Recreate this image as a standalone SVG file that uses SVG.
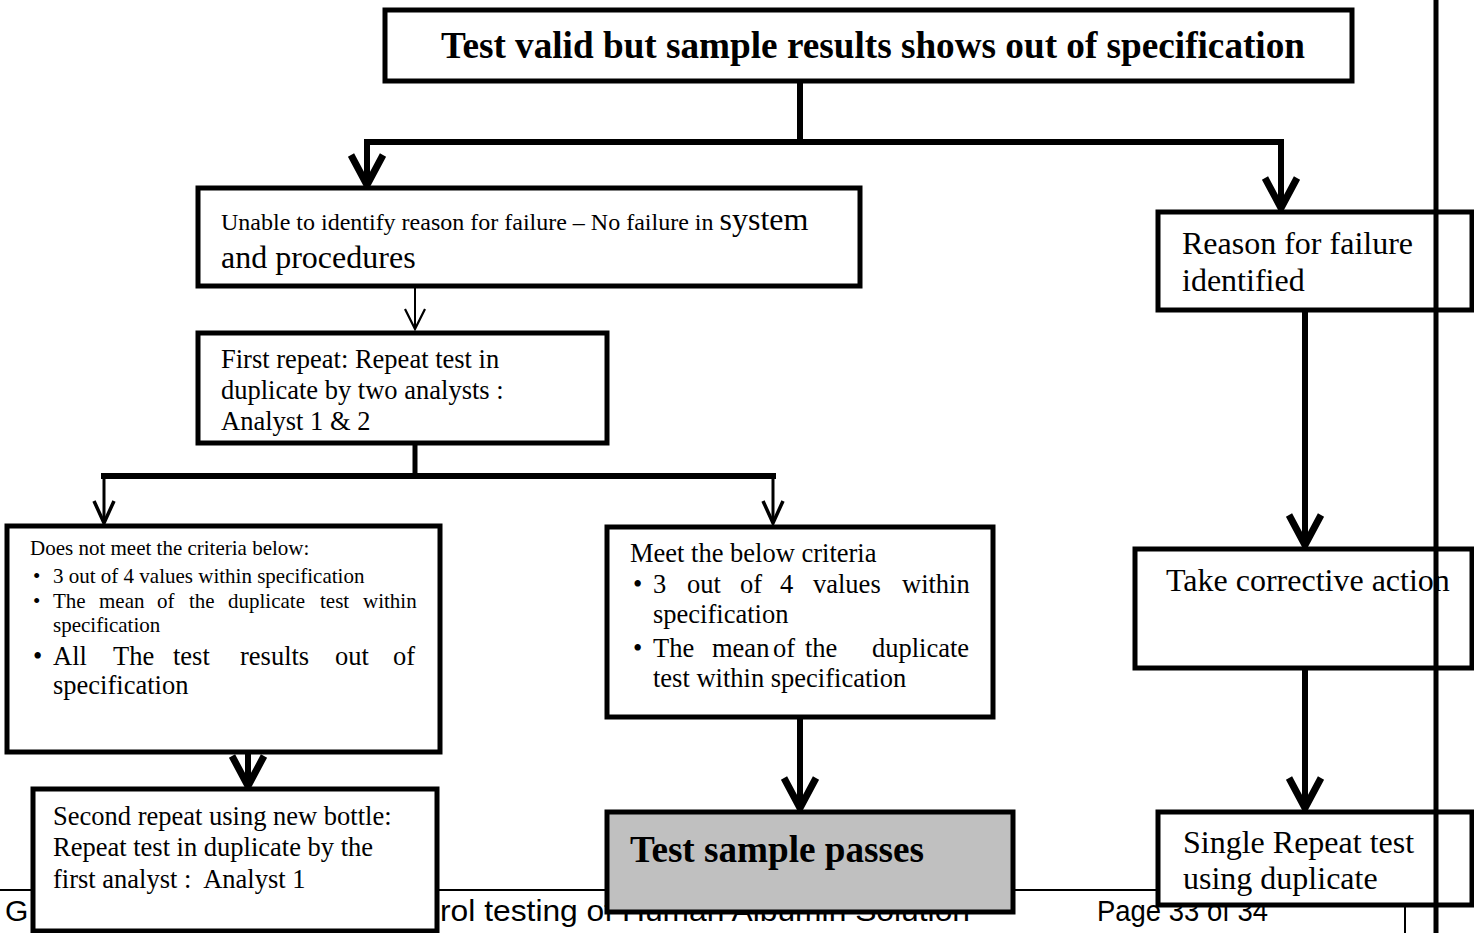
<svg xmlns="http://www.w3.org/2000/svg" width="1474" height="933" viewBox="0 0 1474 933">
<style>
.box{fill:#fff;stroke:#000;stroke-width:5}
.grey{fill:#c0c0c0;stroke:#000;stroke-width:5}
.t{font-family:"Liberation Serif","Times New Roman",serif;fill:#000}
.b{font-weight:bold}
.foot{font-family:"Liberation Sans",Arial,sans-serif;font-size:30px;fill:#000}
.thk{fill:none;stroke:#000;stroke-width:6}
.med{fill:none;stroke:#000;stroke-width:3}
.thin{fill:none;stroke:#000;stroke-width:2}
.rule{fill:none;stroke:#000;stroke-width:2}
.rule5{fill:none;stroke:#000;stroke-width:5}
</style>
<defs>
<marker id="ahT" viewBox="-40 -24 48 48" refX="0" refY="0" markerWidth="48" markerHeight="48" markerUnits="userSpaceOnUse" orient="auto">
<path d="M-30,-16 L0,0 L-30,16" fill="none" stroke="#000" stroke-width="7" stroke-linejoin="miter"/>
</marker>
<marker id="ahM" viewBox="-30 -16 36 32" refX="0" refY="0" markerWidth="36" markerHeight="32" markerUnits="userSpaceOnUse" orient="auto">
<path d="M-22,-10 L0,0 L-22,10" fill="none" stroke="#000" stroke-width="3.5"/>
</marker>
<marker id="ahS" viewBox="-30 -16 36 32" refX="0" refY="0" markerWidth="36" markerHeight="32" markerUnits="userSpaceOnUse" orient="auto">
<path d="M-20,-10 L0,0 L-20,10" fill="none" stroke="#000" stroke-width="2.2"/>
</marker>
</defs>

<g id="footer">
<line class="rule" x1="0" y1="890" x2="1405" y2="890"/>
<line class="rule" x1="1405" y1="890" x2="1405" y2="933"/>
<text class="foot" x="5" y="921">G</text>
<text class="foot" x="440" y="921" textLength="530" lengthAdjust="spacingAndGlyphs">rol testing of Human Albumin Solution</text>
<text class="foot" x="1097" y="921" textLength="171" lengthAdjust="spacingAndGlyphs">Page 33 of 34</text>
</g>

<g id="connectors">
<polyline class="thk" points="800,82 800,142"/>
<polyline class="thk" points="800,142 367,142 367,185" marker-end="url(#ahT)"/>
<polyline class="thk" points="800,142 1281,142 1281,208" marker-end="url(#ahT)"/>
<line class="thin" x1="415" y1="287" x2="415" y2="329" marker-end="url(#ahS)"/>
<line class="rule5" x1="415" y1="428" x2="415" y2="476"/>
<line class="thk" x1="101" y1="476" x2="776" y2="476"/>
<line class="med" x1="104" y1="476" x2="104" y2="523" marker-end="url(#ahM)"/>
<line class="med" x1="773" y1="476" x2="773" y2="523" marker-end="url(#ahM)"/>
<line class="thk" x1="248" y1="740" x2="248" y2="786" marker-end="url(#ahT)"/>
<line class="thk" x1="800" y1="718" x2="800" y2="808" marker-end="url(#ahT)"/>
<line class="thk" x1="1305" y1="310" x2="1305" y2="545" marker-end="url(#ahT)"/>
<line class="thk" x1="1305" y1="668" x2="1305" y2="808" marker-end="url(#ahT)"/>
</g>

<g id="n-top">
<rect class="box" x="385" y="10" width="967" height="71"/>
<text class="t b" x="441" y="58" font-size="37" textLength="864" lengthAdjust="spacingAndGlyphs">Test valid but sample results shows out of specification</text>
</g>

<g id="n-unable">
<rect class="box" x="198" y="188" width="662" height="98"/>
<text class="t" x="221" y="230" font-size="24">Unable to identify reason for failure – No failure in <tspan font-size="32">system</tspan></text>
<text class="t" x="221" y="268" font-size="32">and procedures</text>
</g>

<g id="n-first">
<rect class="box" x="198" y="333" width="409" height="110"/>
<text class="t" x="221" y="368" font-size="26.5">First repeat: Repeat test in</text>
<text class="t" x="221" y="399" font-size="26.5">duplicate by two analysts :</text>
<text class="t" x="221" y="430" font-size="26.5">Analyst 1 &amp; 2</text>
</g>

<g id="n-notmeet">
<rect class="box" x="7" y="526" width="433" height="226"/>
<text class="t" x="30" y="555" font-size="21">Does not meet the criteria below:</text>
<text class="t" x="33" y="583" font-size="21">•</text>
<text class="t" x="53" y="583" font-size="21">3 out of 4 values within specification</text>
<text class="t" x="33" y="608" font-size="21">•</text>
<text class="t" y="608" font-size="21"><tspan x="53">The</tspan><tspan x="99">mean</tspan><tspan x="157">of</tspan><tspan x="189">the</tspan><tspan x="228">duplicate</tspan><tspan x="320">test</tspan><tspan x="363">within</tspan></text>
<text class="t" x="53" y="632" font-size="21">specification</text>
<text class="t" x="33" y="665" font-size="26.5">•</text>
<text class="t" y="665" font-size="26.5"><tspan x="53">All</tspan><tspan x="113">The</tspan><tspan x="173">test</tspan><tspan x="240">results</tspan><tspan x="335">out</tspan><tspan x="393">of</tspan></text>
<text class="t" x="53" y="694" font-size="26.5">specification</text>
</g>

<g id="n-meet">
<rect class="box" x="607" y="527" width="386" height="190"/>
<text class="t" x="630" y="562" font-size="26.5">Meet the below criteria</text>
<text class="t" x="633" y="593" font-size="26.5">•</text>
<text class="t" y="593" font-size="26.5"><tspan x="653">3</tspan><tspan x="687">out</tspan><tspan x="740">of</tspan><tspan x="780">4</tspan><tspan x="813">values</tspan><tspan x="902">within</tspan></text>
<text class="t" x="653" y="623" font-size="26.5">specification</text>
<text class="t" x="633" y="657" font-size="26.5">•</text>
<text class="t" y="657" font-size="26.5"><tspan x="653">The</tspan><tspan x="712">mean</tspan><tspan x="773">of</tspan><tspan x="805">the</tspan><tspan x="872">duplicate</tspan></text>
<text class="t" x="653" y="687" font-size="26.5">test within specification</text>
</g>

<g id="n-second">
<rect class="box" x="33" y="789" width="404" height="142"/>
<text class="t" x="53" y="825" font-size="26.5">Second repeat using new bottle:</text>
<text class="t" x="53" y="856" font-size="26.5">Repeat test in duplicate by the</text>
<text class="t" x="53" y="888" font-size="26.5" xml:space="preserve">first analyst :  Analyst 1</text>
</g>

<g id="n-pass">
<rect class="grey" x="607" y="812" width="406" height="100"/>
<text class="t b" x="630" y="862" font-size="37" textLength="294" lengthAdjust="spacingAndGlyphs">Test sample passes</text>
</g>

<g id="n-reason">
<rect class="box" x="1158" y="212" width="314" height="98"/>
<text class="t" x="1182" y="254" font-size="32">Reason for failure</text>
<text class="t" x="1182" y="291" font-size="32">identified</text>
</g>

<g id="n-corrective">
<rect class="box" x="1135" y="549" width="337" height="119"/>
<text class="t" x="1166" y="591" font-size="32">Take corrective action</text>
</g>

<g id="n-single">
<rect class="box" x="1158" y="812" width="314" height="93"/>
<text class="t" x="1183" y="853" font-size="32">Single Repeat test</text>
<text class="t" x="1183" y="889" font-size="32">using duplicate</text>
</g>

<g id="margin">
<line class="rule5" x1="1436" y1="0" x2="1436" y2="933"/>
</g>
</svg>
